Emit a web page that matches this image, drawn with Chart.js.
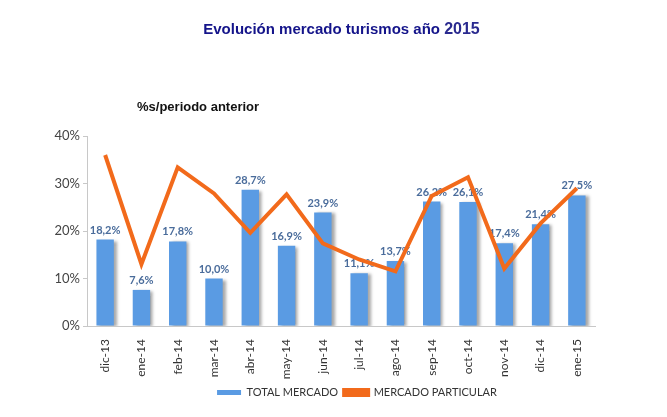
<!DOCTYPE html>
<html>
<head>
<meta charset="utf-8">
<script src="https://cdn.jsdelivr.net/npm/chart.js@4/dist/chart.umd.min.js"></script>
<style>
    body { margin: 0; background: #fff; }
    .wrap { position: relative; width: 667px; height: 417px; }
    .title { position: absolute; left: 0; top: 20px; width: 683px; text-align: center;
        font: bold 15px "Liberation Sans", Arial, sans-serif; color: #14148a; }
    .title span { color: #2a2a8f; font-size: 16px; }
    .subtitle { position: absolute; left: 137px; top: 99px;
        font: bold 13px "Liberation Sans", Arial, sans-serif; color: #111; }
    canvas { position: absolute; left: 0; top: 0; }
</style>
</head>
<body>
<div class="wrap">
    <canvas id="chart" width="667" height="417"></canvas>
    <div class="title">Evolución mercado turismos año <span>2015</span></div>
    <div class="subtitle">%s/periodo anterior</div>
</div>
<script>
var months = ["dic-13", "ene-14", "feb-14", "mar-14", "abr-14", "may-14", "jun-14",
    "jul-14", "ago-14", "sep-14", "oct-14", "nov-14", "dic-14", "ene-15"];
var totalMercado = [18.2, 7.6, 17.8, 10.0, 28.7, 16.9, 23.9, 11.1, 13.7, 26.2, 26.1, 17.4, 21.4, 27.5];
var mercadoParticular = [36.0, 13.0, 33.4, 27.9, 19.6, 27.7, 17.4, 14.0, 11.5, 27.4, 31.3, 12.1, 21.6, 29.0];
var yTicks = [0, 10, 20, 30, 40];

var FONT = "Lato, 'Open Sans', sans-serif";

function pct(v) {
    return v.toFixed(1).replace(".", ",") + "%";
}

// shadow under the bars, value labels on top of them (before the line is drawn)
var barExtras = {
    id: "barExtras",
    beforeDatasetDraw: function(chart, args) {
        if (args.index !== 0) return;
        var ctx = chart.ctx;
        ctx.save();
        ctx.shadowColor = "rgba(0,0,0,0.35)";
        ctx.shadowOffsetX = 3;
        ctx.shadowOffsetY = 1;
        ctx.shadowBlur = 3;
    },
    afterDatasetDraw: function(chart, args) {
        if (args.index !== 0) return;
        var ctx = chart.ctx;
        ctx.restore();
        ctx.save();
        ctx.font = "bold 11px " + FONT;
        ctx.fillStyle = "#4a6c9b";
        ctx.textAlign = "center";
        ctx.textBaseline = "bottom";
        args.meta.data.forEach(function(bar, i) {
            ctx.fillText(pct(totalMercado[i]), bar.x, bar.y - 4);
        });
        ctx.restore();
    }
};

new Chart(document.getElementById("chart"), {
    type: "bar",
    data: {
        labels: months,
        datasets: [{
            label: "TOTAL MERCADO",
            data: totalMercado,
            backgroundColor: "#5a9be3",
            barPercentage: 0.48,
            categoryPercentage: 1,
            order: 1
        }, {
            type: "line",
            label: "MERCADO PARTICULAR",
            data: mercadoParticular,
            borderColor: "#f26a1b",
            backgroundColor: "#f26a1b",
            borderWidth: 4,
            pointRadius: 0,
            tension: 0,
            order: 0
        }]
    },
    plugins: [barExtras],
    options: {
        animation: false,
        responsive: false,
        layout: { padding: { left: 47, right: 0, top: 136, bottom: 9 } },
        plugins: {
            title: { display: false },
            tooltip: { enabled: false },
            legend: {
                position: "bottom",
                labels: {
                    sort: function(a, b) { return a.datasetIndex - b.datasetIndex; },
                    boxWidth: 24,
                    boxHeight: 5,
                    padding: 6,
                    color: "#333",
                    font: { family: FONT, size: 11 }
                }
            }
        },
        scales: {
            x: {
                grid: { display: false },
                border: { color: "#c8c8c8" },
                ticks: {
                    minRotation: 90,
                    maxRotation: 90,
                    color: "#333",
                    padding: 5,
                    font: { family: FONT, size: 12 }
                },
                afterFit: function(s) { s.height = 55; }
            },
            y: {
                min: 0,
                max: 40,
                grid: { drawOnChartArea: false, tickLength: 4, color: "#c8c8c8" },
                border: { color: "#c8c8c8" },
                afterBuildTicks: function(s) {
                    s.ticks = yTicks.map(function(v) { return { value: v }; });
                },
                ticks: {
                    color: "#444",
                    padding: 3,
                    font: { family: FONT, size: 13 },
                    callback: function(v) { return v + "%"; }
                },
                afterFit: function(s) { s.width = 40; }
            },
            y2: {
                position: "right",
                display: true,
                grid: { display: false },
                border: { display: false },
                ticks: { display: false },
                afterFit: function(s) { s.width = 72; }
            }
        }
    }
});
</script>
</body>
</html>
